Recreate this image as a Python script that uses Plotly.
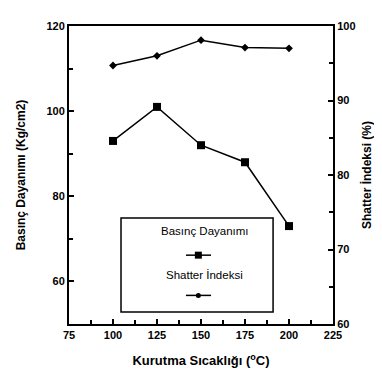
import plotly.graph_objects as go

temps = [100, 125, 150, 175, 200]
basinc = [93, 101, 92, 88, 73]
shatter = [94.7, 96.0, 98.1, 97.1, 97.0]

x_ticks = [75, 100, 125, 150, 175, 200, 225]
y1_ticks = [60, 80, 100, 120]
y2_ticks = [60, 70, 80, 90, 100]

FONT = "Liberation Sans"
tickfont = dict(family=FONT, size=11, color="black", weight="bold")

fig = go.Figure()
fig.add_trace(go.Scatter(x=temps, y=basinc, mode="lines+markers", name="Basınç Dayanımı",
                         line=dict(color="black", width=1.5),
                         marker=dict(symbol="square", size=8, color="black"),
                         showlegend=False))
fig.add_trace(go.Scatter(x=temps, y=shatter, mode="lines+markers", name="Shatter İndeksi",
                         yaxis="y2", line=dict(color="black", width=1.5),
                         marker=dict(symbol="diamond", size=6, color="black"),
                         showlegend=False))

fig.update_layout(
    width=382, height=377,
    margin=dict(l=61, r=57, t=13, b=61),
    paper_bgcolor="white", plot_bgcolor="white",
    xaxis=dict(range=[75, 225], tickvals=x_ticks, showline=True, linecolor="black", linewidth=2,
               mirror=True, ticks="inside", ticklen=5, tickcolor="black", tickwidth=1.5,
               minor=dict(dtick=12.5, tick0=75, ticks="inside", ticklen=4, tickcolor="black"),
               showgrid=False, zeroline=False, tickfont=tickfont,
               title=dict(text="Kurutma Sıcaklığı (<sup>o</sup>C)", standoff=16,
                          font=dict(family=FONT, size=13, color="black", weight="bold"))),
    yaxis=dict(range=[50, 120], tickvals=y1_ticks, showline=True, linecolor="black", linewidth=2,
               ticks="inside", ticklen=5, tickcolor="black", tickwidth=1.5,
               minor=dict(dtick=10, tick0=50, ticks="inside", ticklen=4, tickcolor="black"),
               showgrid=False, zeroline=False, tickfont=tickfont,
               title=dict(text="Basınç Dayanımı (Kg/cm2)", standoff=18,
                          font=dict(family=FONT, size=12, color="black", weight="bold"))),
    yaxis2=dict(range=[60, 100], tickvals=y2_ticks, overlaying="y", side="right",
                showline=True, linecolor="black", linewidth=2,
                ticks="inside", ticklen=5, tickcolor="black", tickwidth=1.5,
                minor=dict(dtick=5, tick0=60, ticks="inside", ticklen=4, tickcolor="black"),
                showgrid=False, zeroline=False, tickfont=tickfont,
                title=dict(text="Shatter İndeksi (%)", standoff=8,
                           font=dict(family=FONT, size=12, color="black", weight="bold"))),
)

# custom legend box (text above symbol, as in reference)
shapes = [dict(type="rect", xref="paper", yref="paper", x0=0.197, x1=0.773, y0=0.040, y1=0.356,
               line=dict(color="black", width=1.5), fillcolor="white", layer="above")]
for yy, sym in [(0.231, "square"), (0.096, "circle")]:
    shapes.append(dict(type="line", xref="paper", yref="paper", x0=0.443, x1=0.538, y0=yy, y1=yy,
                       line=dict(color="black", width=1.5), layer="above"))
    if sym == "square":
        shapes.append(dict(type="rect", xref="paper", yref="paper", xsizemode="pixel", ysizemode="pixel",
                           xanchor=0.490, yanchor=yy, x0=-3.5, x1=3.5, y0=-3.5, y1=3.5,
                           fillcolor="black", line=dict(width=0), layer="above"))
    else:
        shapes.append(dict(type="circle", xref="paper", yref="paper", xsizemode="pixel", ysizemode="pixel",
                           xanchor=0.490, yanchor=yy, x0=-2.5, x1=2.5, y0=-2.5, y1=2.5,
                           fillcolor="black", line=dict(width=0), layer="above"))
fig.update_layout(shapes=shapes)
for txt, yy in [("Basınç Dayanımı", 0.284), ("Shatter İndeksi", 0.139)]:
    fig.add_annotation(text=txt, xref="paper", yref="paper", x=0.515, y=yy, showarrow=False,
                       font=dict(family=FONT, size=11.5, color="black"))

fig.write_html("out.html")
